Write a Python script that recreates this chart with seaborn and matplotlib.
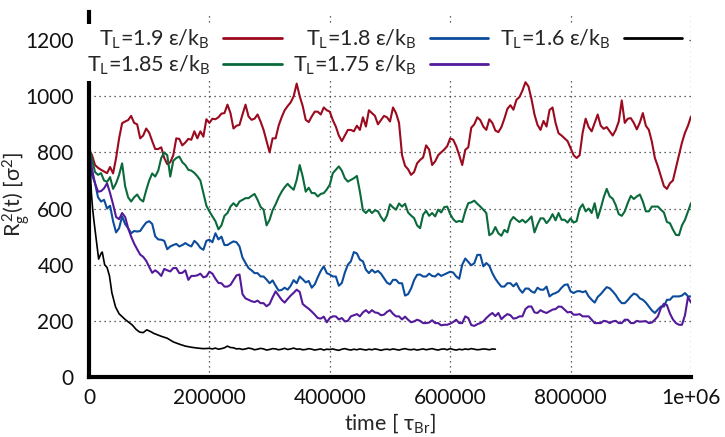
import numpy as np
import matplotlib
matplotlib.use("Agg")
import matplotlib.pyplot as plt
from matplotlib.ticker import FixedLocator, FixedFormatter
import seaborn as sns

# --- data: radius of gyration squared vs time (sampled every 5000 tau_Br) ---
time_steps = np.arange(0, 1_000_001, 5_000)

rg2_T190 = [810, 790, 755, 745, 738, 732, 726, 748, 725, 780, 850, 904, 910, 915, 930, 905, 900, 850, 860, 885,
            870, 840, 812, 812, 818, 780, 758, 765, 790, 850, 848, 825, 835, 848, 845, 875, 850, 875, 856, 918,
            905, 920, 918, 925, 938, 940, 970, 940, 885, 895, 898, 935, 970, 928, 916, 920, 935, 910, 880, 840,
            800, 850, 850, 895, 925, 950, 965, 978, 1000, 1045, 1000, 965, 916, 908, 928, 945, 945, 935, 960, 950,
            945, 915, 892, 860, 840, 860, 880, 880, 875, 895, 880, 925, 892, 950, 940, 930, 900, 915, 930, 925,
            910, 960, 940, 905, 790, 752, 740, 720, 730, 761, 773, 782, 825, 810, 755, 768, 790, 800, 810, 822,
            850, 845, 822, 790, 755, 809, 818, 888, 900, 925, 915, 892, 880, 918, 905, 878, 872, 890, 920, 955,
            968, 952, 987, 997, 1020, 1050, 1035, 990, 935, 898, 880, 912, 892, 951, 960, 905, 868, 860, 850, 840,
            815, 790, 780, 790, 870, 920, 890, 875, 905, 935, 895, 884, 890, 875, 860, 880, 910, 985, 905, 920,
            922, 905, 882, 906, 940, 895, 880, 838, 780, 750, 715, 680, 670, 690, 700, 745, 790, 835, 870, 895,
            928]

rg2_T185 = [820, 775, 730, 720, 726, 700, 695, 712, 670, 690, 720, 761, 680, 640, 625, 640, 650, 633, 625, 665,
            700, 725, 714, 735, 780, 800, 790, 714, 770, 780, 785, 765, 755, 738, 735, 727, 715, 700, 655, 610,
            590, 572, 555, 526, 540, 574, 584, 607, 619, 608, 625, 631, 637, 637, 645, 652, 631, 606, 596, 540,
            560, 594, 615, 640, 660, 676, 688, 676, 667, 702, 755, 714, 660, 674, 655, 655, 643, 652, 655, 668,
            685, 726, 738, 750, 735, 708, 696, 702, 708, 716, 660, 594, 584, 596, 584, 594, 590, 570, 555, 575,
            615, 604, 596, 618, 607, 617, 586, 575, 566, 540, 530, 578, 592, 574, 584, 572, 596, 586, 605, 607,
            580, 562, 552, 556, 552, 590, 619, 622, 628, 617, 607, 596, 584, 505, 512, 534, 512, 503, 524, 515,
            555, 570, 560, 552, 560, 550, 560, 572, 515, 543, 565, 565, 548, 560, 580, 558, 584, 560, 560, 550,
            565, 550, 555, 600, 615, 590, 600, 584, 619, 566, 600, 640, 670, 643, 635, 612, 580, 574, 590, 620,
            645, 634, 643, 650, 625, 590, 590, 607, 607, 607, 596, 586, 552, 548, 525, 506, 505, 540, 560, 590,
            619]

rg2_T180 = [830, 720, 690, 640, 625, 631, 600, 610, 555, 515, 530, 572, 545, 530, 512, 520, 518, 520, 536, 550,
            555, 545, 501, 490, 489, 485, 455, 465, 470, 474, 465, 470, 477, 470, 465, 485, 475, 460, 453, 485,
            489, 480, 512, 490, 500, 470, 470, 477, 483, 480, 465, 425, 406, 388, 380, 370, 370, 358, 358, 347,
            334, 344, 325, 308, 310, 318, 311, 325, 345, 334, 358, 348, 337, 342, 318, 330, 355, 378, 394, 370,
            365, 358, 358, 325, 335, 372, 400, 412, 445, 440, 418, 412, 382, 370, 382, 372, 378, 368, 352, 336,
            330, 346, 346, 334, 334, 290, 295, 315, 345, 364, 365, 358, 358, 368, 360, 358, 368, 360, 365, 370,
            375, 372, 358, 350, 400, 422, 410, 398, 405, 435, 435, 394, 406, 396, 370, 350, 335, 322, 322, 334,
            334, 323, 334, 313, 300, 315, 315, 305, 300, 318, 311, 311, 322, 287, 295, 299, 305, 318, 328, 330,
            305, 299, 305, 306, 302, 306, 287, 275, 265, 285, 295, 308, 320, 316, 305, 292, 275, 263, 263, 274,
            287, 297, 293, 280, 275, 265, 251, 237, 228, 240, 251, 251, 275, 275, 287, 287, 287, 290, 299, 287,
            287]

rg2_T175 = [800, 740, 690, 660, 662, 672, 690, 655, 615, 570, 562, 584, 570, 530, 500, 475, 455, 436, 428, 414,
            392, 371, 380, 372, 360, 385, 380, 376, 388, 388, 370, 371, 380, 346, 360, 360, 362, 368, 355, 358,
            375, 368, 350, 335, 334, 322, 322, 328, 345, 362, 365, 295, 280, 275, 270, 267, 272, 263, 263, 252,
            260, 284, 305, 290, 275, 265, 278, 290, 300, 311, 303, 260, 251, 243, 233, 222, 210, 208, 215, 195,
            210, 216, 216, 205, 210, 198, 200, 216, 220, 224, 216, 230, 238, 228, 238, 230, 228, 220, 222, 232,
            238, 225, 216, 216, 205, 215, 204, 195, 198, 204, 200, 192, 192, 194, 202, 192, 192, 184, 186, 186,
            190, 196, 204, 192, 192, 216, 210, 185, 182, 188, 192, 198, 210, 220, 228, 217, 228, 206, 216, 224,
            220, 208, 210, 216, 216, 242, 251, 251, 230, 228, 238, 232, 228, 234, 240, 242, 251, 250, 240, 230,
            232, 222, 222, 224, 216, 216, 216, 204, 192, 192, 192, 200, 198, 192, 198, 200, 192, 192, 204, 204,
            192, 192, 200, 197, 198, 199, 192, 194, 204, 216, 245, 261, 256, 226, 205, 192, 186, 186, 220, 285,
            265]

# the T_L = 1.6 run is shorter and was written more densely during the collapse
time_T160 = [0, 2000, 4000, 6000, 8000, 12000, 16000, 20000, 22000, 26000, 30000, 34000, 38000, 44000, 50000,
             55000, 60000, 66000, 72000, 78000, 84000, 90000, 96000, 102000, 108000, 114000, 120000, 130000,
             140000, 150000, 160000, 170000, 180000, 190000] + list(range(200000, 675001, 5000))
rg2_T160 = [830, 740, 655, 600, 560, 490, 420, 440, 445, 400, 390, 360, 300, 250, 225,
            215, 205, 195, 185, 170, 160, 158, 168, 162, 155, 150, 145, 138,
            125, 117, 110, 106, 103, 101,
            102, 100, 103, 99, 101, 104, 110, 105, 104, 100,
            101, 98, 100, 103, 101, 97, 99, 102, 100, 96,
            98, 101, 100, 97, 99, 102, 98, 100, 103, 99,
            100, 97, 98, 101, 99, 96, 98, 100, 96, 99,
            98, 100, 97, 95, 99, 101, 98, 96, 99, 97,
            100, 98, 96, 99, 97, 100, 98, 95, 98, 99,
            97, 100, 98, 96, 99, 101, 98, 97, 99, 96,
            98, 100, 97, 99, 101, 98, 96, 99, 100, 97,
            101, 98, 96, 99, 97, 100, 98, 101, 99, 97,
            98, 100, 99, 97, 100, 99]

labels = [r"T$_{L}$=1.9 ε/k$_{B}$", r"T$_{L}$=1.85 ε/k$_{B}$", r"T$_{L}$=1.8 ε/k$_{B}$",
          r"T$_{L}$=1.75 ε/k$_{B}$", r"T$_{L}$=1.6 ε/k$_{B}$"]
colors = ["#9b0a1e", "#0b6a3c", "#0c4c9c", "#531a9a", "#000000"]

x_ticks = [0, 200000, 400000, 600000, 800000, 1000000]
x_ticklabels = ["0", "200000", "400000", "600000", "800000", "1e+06"]
y_ticks = [0, 200, 400, 600, 800, 1000, 1200]
y_ticklabels = ["0", "200", "400", "600", "800", "1000", "1200"]

# --- style ---
sns.set_theme(style="white")
plt.rcParams['font.family'] = ['Lato', 'DejaVu Sans']
plt.rcParams['mathtext.fontset'] = 'custom'
plt.rcParams['mathtext.rm'] = 'Lato'
plt.rcParams['mathtext.it'] = 'Lato:italic'
plt.rcParams['mathtext.default'] = 'regular'

fig = plt.figure(figsize=(7.25, 4.37), dpi=100)
ax = fig.add_axes([89 / 725, 1 - 377 / 437, 602 / 725, 365 / 437])

series = [rg2_T190, rg2_T185, rg2_T180, rg2_T175]
for vals, lab, col in zip(series, labels[:4], colors[:4]):
    sns.lineplot(x=time_steps, y=vals, color=col, label=lab, linewidth=1.5,
                 estimator=None, ax=ax)
sns.lineplot(x=time_T160, y=rg2_T160, color=colors[4], label=labels[4], linewidth=1.2,
             estimator=None, ax=ax)

ax.set_xlim(0, 1_000_000)
ax.set_ylim(0, 1300)
ax.xaxis.set_major_locator(FixedLocator(x_ticks))
ax.xaxis.set_major_formatter(FixedFormatter(x_ticklabels))
ax.yaxis.set_major_locator(FixedLocator(y_ticks))
ax.yaxis.set_major_formatter(FixedFormatter(y_ticklabels))

for side in ("top", "right"):
    ax.spines[side].set_visible(False)
for side in ("left", "bottom"):
    ax.spines[side].set_linewidth(3)
    ax.spines[side].set_color("black")

ax.tick_params(axis="both", which="major", direction="in", length=7, width=3,
               color="black", labelsize=15, labelcolor="#111111")
ax.tick_params(axis="y", pad=11)
ax.tick_params(axis="x", pad=8)

ax.set_axisbelow(True)
ax.grid(True, which="major", color="#333333", linestyle=(0, (1, 3)), linewidth=0.9)

ax.set_xlabel(r"time [ τ$_{Br}$]", fontsize=15.5, labelpad=2)
ax.set_ylabel(r"R$_{g}^{\,2}$(t) [σ$^{2}$]", fontsize=15.5)
ax.yaxis.set_label_coords(-0.095, 0.5)

leg = ax.legend(ncol=3, markerfirst=False, loc="upper right",
                bbox_to_anchor=(0.992, 0.968), frameon=True, framealpha=1,
                facecolor="white", edgecolor="none", fancybox=False,
                fontsize=15.5, handlelength=2.7, handletextpad=0.62,
                columnspacing=0.55, labelspacing=0.12, borderpad=0.2,
                borderaxespad=0)
for line in leg.get_lines():
    line.set_linewidth(2.0)

fig.savefig("out.png", dpi=100)
